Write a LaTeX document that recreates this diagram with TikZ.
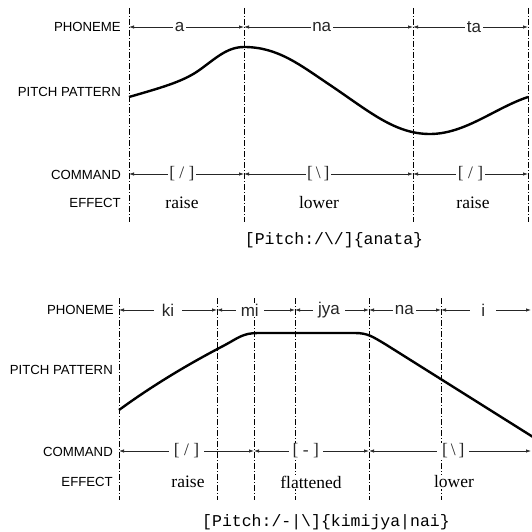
\documentclass[tikz,border=0pt]{standalone}
\usepackage{fontspec}
\setmainfont{Liberation Serif}
\setsansfont{Liberation Sans}
\setmonofont{Liberation Mono}
\usetikzlibrary{arrows.meta}
\begin{document}
\begin{tikzpicture}[x=1pt,y=-1pt,
  vline/.style={line width=0.8pt, dash pattern=on 6pt off 2pt on 1pt off 2pt},
  dim/.style={{Latex[length=5pt,width=3.4pt]}-{Latex[length=5pt,width=3.4pt]}, line width=0.7pt, black!85},
  rowlab/.style={anchor=east, inner sep=0pt, font=\sffamily\fontsize{13.2}{14}\selectfont},
  phon/.style={fill=white, inner ysep=1pt, inner xsep=1.5pt, font=\sffamily\fontsize{17}{17}\selectfont},
  cmd/.style={fill=white, inner ysep=1pt, inner xsep=1.5pt, font=\fontsize{17.5}{17}\selectfont},
  eff/.style={fill=white, inner sep=1pt, font=\fontsize{17.5}{17}\selectfont},
  capt/.style={font=\ttfamily\fontsize{16.5}{17}\selectfont, inner sep=0pt},
  pitch/.style={line width=2.4pt}
]
\useasboundingbox (0,0) rectangle (532,532);

% ---------------- top diagram ----------------
\foreach \n/\x in {1/129,2/244,3/413,4/528} {
  \coordinate (tt\n) at (\x,8);
  \coordinate (tb\n) at (\x,222);
  \coordinate (tp\n) at (\x,27);
  \coordinate (tc\n) at (\x,174);
  \draw[vline] (tt\n) -- (tb\n);
}
\node[rowlab] (tl1) at (121,27) {PHONEME};
\node[rowlab] (tl2) at (121,92) {PITCH PATTERN};
\node[rowlab] (tl3) at (121,175) {COMMAND};
\node[rowlab] (tl4) at (121,203) {EFFECT};

\draw[dim] (tp1) -- node[phon,pos=.44] (ta) {a} (tp2);
\draw[dim] (tp2) -- node[phon,pos=.46] (tna) {na} (tp3);
\draw[dim] (tp3) -- node[phon,pos=.53] (tta) {ta} (tp4);

\draw[dim] (tc1) -- node[cmd,pos=.46] (tc1l) {[ / ]} (tc2);
\draw[dim] (tc2) -- node[cmd,pos=.44] (tc2l) {[\,\textbackslash\,]} (tc3);
\draw[dim] (tc3) -- node[cmd,pos=.5] (tc3l) {[ / ]} (tc4);

\node[eff] (te1) at (182,203) {raise};
\node[eff] (te2) at (319,203) {lower};
\node[eff] (te3) at (473,203) {raise};

\draw[pitch] (129,97) .. controls (160,88) and (182,82) .. (198,71)
  .. controls (214,60) and (226,47) .. (244,47)
  .. controls (278,47) and (300,65) .. (330,85)
  .. controls (370,112) and (395,134) .. (430,134)
  .. controls (465,134) and (495,108) .. (528,97);

\node[capt] (tcap) at (334,240) {[Pitch:/\textbackslash/]\{anata\}};

% ---------------- bottom diagram ----------------
\foreach \n/\x in {1/119,2/217,3/254,4/295,5/369,6/441} {
  \coordinate (bt\n) at (\x,298);
  \coordinate (bb\n) at (\x,500);
  \coordinate (bp\n) at (\x,310);
  \coordinate (bc\n) at (\x,451);
  \draw[vline] (bt\n) -- (bb\n);
}
\coordinate (bp7) at (531,310);
\coordinate (bc7) at (531,451);

\node[rowlab] (bl1) at (114,310) {PHONEME};
\node[rowlab] (bl2) at (113,370) {PITCH PATTERN};
\node[rowlab] (bl3) at (113,452) {COMMAND};
\node[rowlab] (bl4) at (113,482) {EFFECT};

\draw[dim] (bp1) -- node[phon,inner xsep=8pt,pos=.5] (bki) {ki} (bp2);
\draw[dim] (bp2) -- node[phon,inner xsep=5pt,pos=.42] (bmi) {mi} (bp4);
\draw[dim] (bp4) -- node[phon,inner xsep=5pt,pos=.46] (bjya) {jya} (bp5);
\draw[dim] (bp5) -- node[phon,inner xsep=2pt,pos=.49] (bna) {na} (bp6);
\draw[dim] (bp6) -- node[phon,inner xsep=11pt,pos=.47] (bi) {i} (bp7);

\draw[dim] (bc1) -- node[cmd,inner xsep=5pt,pos=.5] (bc1l) {[ / ]} (bc3);
\draw[dim] (bc3) -- node[cmd,inner xsep=4pt,pos=.45] (bc2l) {[ - ]} (bc5);
\draw[dim] (bc5) -- node[cmd,inner xsep=5pt,pos=.52] (bc3l) {[\,\textbackslash\,]} (bc7);

\node[eff] (be1) at (188,482) {raise};
\node[eff] (be2) at (311,482) {flattened};
\node[eff] (be3) at (454,482) {lower};

\draw[pitch] (119,410) .. controls (160,380) and (200,358) .. (225,345)
  .. controls (238,338) and (243,333) .. (258,333)
  -- (355,333) .. controls (368,333) and (373,337) .. (385,344)
  -- (533,437);

\node[capt] (bcap) at (326,522) {[Pitch:/-|\textbackslash]\{kimijya|nai\}};
\end{tikzpicture}
\end{document}
